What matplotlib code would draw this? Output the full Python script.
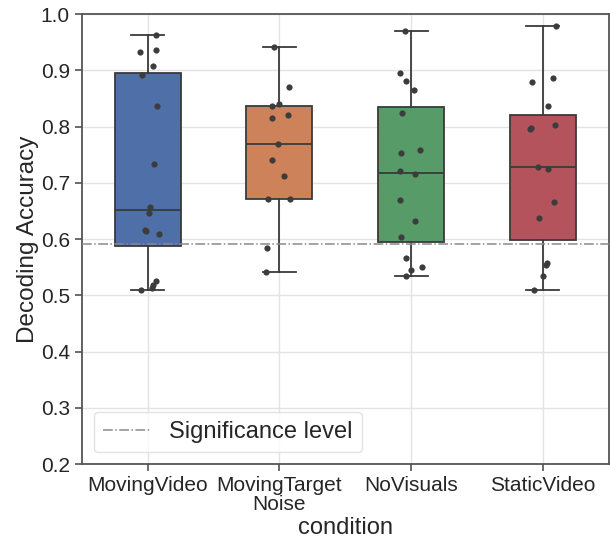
import matplotlib.pyplot as plt
import numpy as np

plt.rcParams['font.family'] = ['Liberation Sans', 'DejaVu Sans']

conditions = ["MovingVideo", "MovingTarget\nNoise", "NoVisuals", "StaticVideo"]

# per-subject decoding accuracies
moving_video = [0.962, 0.937, 0.932, 0.908, 0.891, 0.837, 0.734, 0.658,
                0.646, 0.617, 0.614, 0.609, 0.525, 0.518, 0.514, 0.509]
moving_target = [0.941, 0.870, 0.841, 0.837, 0.820, 0.816, 0.770, 0.741,
                 0.712, 0.671, 0.671, 0.584, 0.542]
no_visuals = [0.970, 0.895, 0.882, 0.866, 0.824, 0.758, 0.754, 0.721,
              0.716, 0.670, 0.633, 0.604, 0.567, 0.550, 0.546, 0.534]
static_video = [0.978, 0.886, 0.879, 0.837, 0.803, 0.798, 0.795, 0.729,
                0.725, 0.666, 0.638, 0.558, 0.554, 0.534, 0.509]

# horizontal strip jitter of each point (category units), same order as above
jit_mv = [0.063, 0.066, -0.058, 0.038, -0.045, 0.073, 0.045, 0.015,
          0.008, -0.023, -0.013, 0.088, 0.063, 0.043, 0.033, -0.05]
jit_mt = [-0.043, 0.076, 0.0, -0.056, 0.063, -0.056, -0.013, -0.056,
          0.033, -0.088, 0.083, -0.093, -0.098]
jit_nv = [-0.043, -0.086, -0.040, 0.025, -0.066, 0.068, -0.078, -0.088,
          0.033, -0.086, 0.030, -0.076, -0.038, 0.083, 0.0, -0.040]
jit_sv = [0.096, 0.078, -0.086, 0.035, 0.091, -0.093, -0.098, -0.035,
          0.038, 0.086, -0.033, 0.033, 0.023, 0.0, -0.066]

significance = 0.591

data = [moving_video, moving_target, no_visuals, static_video]
jitters = [jit_mv, jit_mt, jit_nv, jit_sv]
colors = ['#4e6fa8', '#cd825a', '#579b69', '#b4535c']
linec = '#3a3a3a'

fig = plt.figure(figsize=(6.1, 5.43), dpi=100)
ax = fig.add_axes([0.134, 0.145, 0.864, 0.829])

pos = np.arange(len(conditions))
bp = ax.boxplot(data, positions=pos, widths=0.5, patch_artist=True,
                showfliers=False, zorder=2,
                medianprops=dict(color=linec, linewidth=1.3),
                whiskerprops=dict(color=linec, linewidth=1.3),
                capprops=dict(color=linec, linewidth=1.3),
                boxprops=dict(edgecolor=linec, linewidth=1.3))
for patch, c in zip(bp['boxes'], colors):
    patch.set_facecolor(c)

for i, (vals, jit) in enumerate(zip(data, jitters)):
    ax.scatter(i + np.array(jit), vals, s=20, color='#3c3c3c', zorder=4,
               linewidths=0)

ax.axhline(significance, color='#8a8a8a', linestyle='-.', linewidth=1.1,
           zorder=3, label='Significance level')

ax.set_xlim(-0.5, 3.5)
ax.set_ylim(0.2, 1.0)
ax.set_yticks(np.arange(0.2, 1.01, 0.1))
ax.set_xticks(pos)
ax.set_xticklabels(conditions, fontsize=15, color='#262626', linespacing=1.0)
ax.tick_params(axis='y', labelsize=15, labelcolor='#262626')
ax.tick_params(length=5, width=1.1, color='#444444')
ax.grid(True, color='#e3e3e3', linewidth=1.0, zorder=0)
ax.set_axisbelow(True)
for sp in ax.spines.values():
    sp.set_color('#555555')
    sp.set_linewidth(1.3)

ax.set_ylabel('Decoding Accuracy', fontsize=17.5, color='#262626', labelpad=1)
ax.set_xlabel('condition', fontsize=17, color='#262626', labelpad=2)

leg = ax.legend(loc='lower left', fontsize=17, frameon=True, fancybox=True)
leg.get_frame().set_edgecolor('#dddddd')
for t in leg.get_texts():
    t.set_color('#262626')

fig.savefig('out.png', dpi=100)
